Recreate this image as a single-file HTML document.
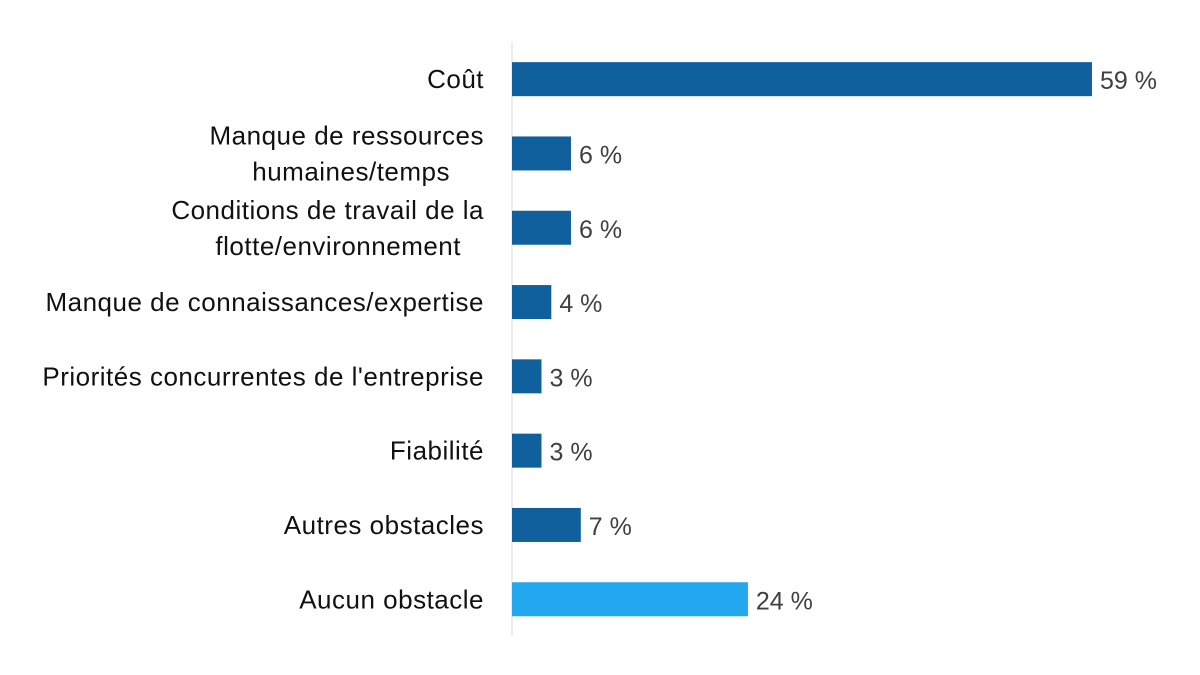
<!DOCTYPE html>
<html><head><meta charset="utf-8"><style>
body{margin:0;background:#fff;}
svg{display:block;font-family:"Liberation Sans",sans-serif;}
</style></head><body>
<svg id="chart" width="1200" height="675"></svg>
<script>
const categories=[["Coût"],["Manque de ressources","humaines/temps"],["Conditions de travail de la","flotte/environnement"],["Manque de connaissances/expertise"],["Priorités concurrentes de l'entreprise"],["Fiabilité"],["Autres obstacles"],["Aucun obstacle"]];
const values=[59,6,6,4,3,3,7,24];
const valueLabels=["59 %","6 %","6 %","4 %","3 %","3 %","7 %","24 %"];
const highlight=[false,false,false,false,false,false,false,true];
const svgEl=document.getElementById('chart');
const NS='http://www.w3.org/2000/svg';
const x0=512,pxPer=9.83,topY=42,step=74.3,barH=34;
const secondLineShift=[0,-34,-23,0,0,0,0,0];
const xs=v=>x0+v*pxPer;
const yc=i=>topY+step*(i+0.5);
function mk(t,a){const e=document.createElementNS(NS,t);for(const k in a)e.setAttribute(k,a[k]);svgEl.appendChild(e);return e;}
const ax=mk('line',{x1:x0,x2:x0,y1:topY,y2:635,stroke:'#d9d9d9','stroke-width':1});


values.forEach((v,i)=>{
  const r=mk('rect',{x:x0,y:yc(i)-barH/2,width:xs(v)-x0,height:barH,fill:highlight[i]?'#23a7ef':'#11609e'});
  
  
  const t=mk('text',{x:xs(v)+8,y:yc(i)+10,'font-size':25,fill:'#404040'});
  t.textContent=valueLabels[i];
  
  
  const lines=categories[i];
  lines.forEach((s,j)=>{
    const off=lines.length===1?0:(j===0?-18:18);
    const shift=j===1?secondLineShift[i]:0;
    const c=mk('text',{x:484+shift,y:yc(i)+9+off,'font-size':26,'letter-spacing':0.5,fill:'#111','text-anchor':'end'});
    c.textContent=s;
    
    
  });
});
</script>
</body></html>
